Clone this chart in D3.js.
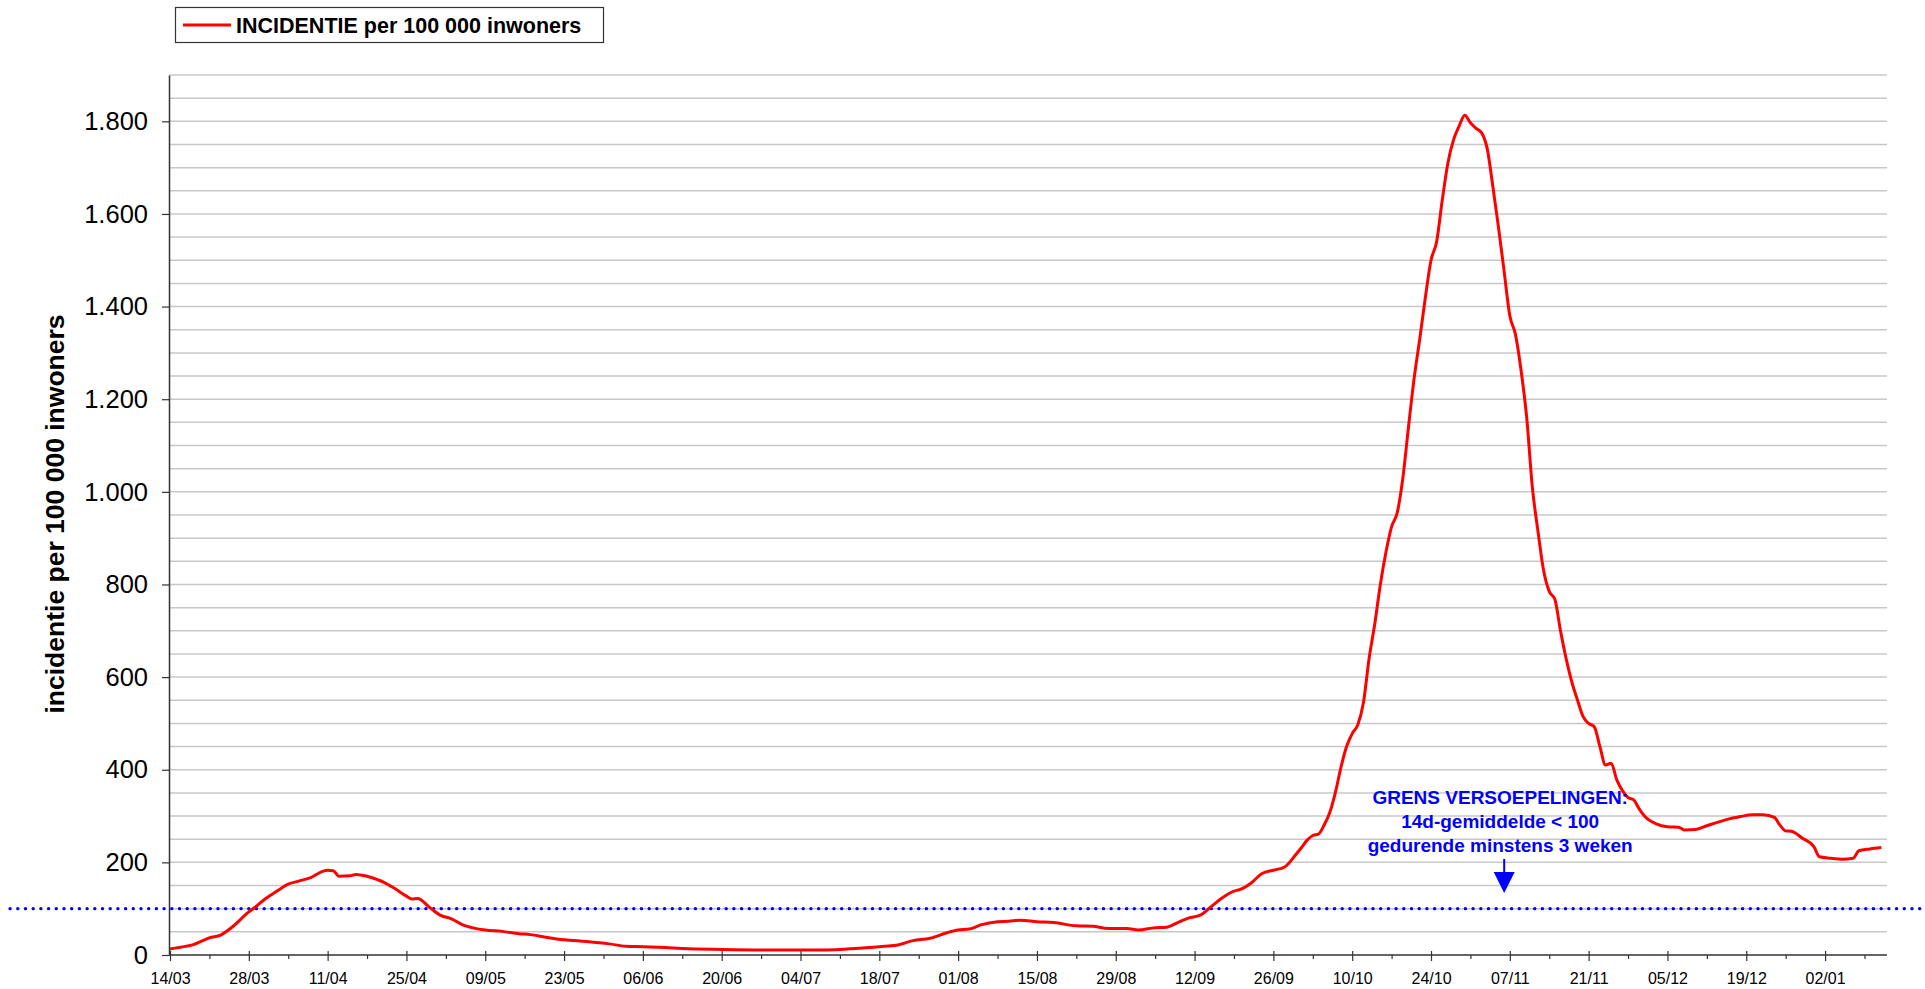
<!DOCTYPE html>
<html>
<head>
<meta charset="utf-8">
<script src="https://cdn.jsdelivr.net/npm/d3@7"></script>
<style>
  body { margin: 0; background: #fff; }
</style>
</head>
<body>
<script>
// incidence per 100 000 inhabitants (date, value)
const dates = [
  "2020-03-14","2020-03-16","2020-03-18","2020-03-20","2020-03-21","2020-03-23","2020-03-25","2020-03-28","2020-03-29","2020-03-31",
  "2020-04-02","2020-04-04","2020-04-06","2020-04-08","2020-04-10","2020-04-11","2020-04-12","2020-04-13","2020-04-15","2020-04-16",
  "2020-04-18","2020-04-20","2020-04-21","2020-04-23","2020-04-25","2020-04-26","2020-04-27","2020-04-29","2020-05-01","2020-05-03",
  "2020-05-05","2020-05-07","2020-05-09","2020-05-12","2020-05-15","2020-05-17","2020-05-20","2020-05-23","2020-05-27","2020-05-31",
  "2020-06-03","2020-06-06","2020-06-10","2020-06-13","2020-06-20","2020-06-27","2020-07-04","2020-07-08","2020-07-11","2020-07-15",
  "2020-07-18","2020-07-21","2020-07-24","2020-07-27","2020-07-30","2020-08-01","2020-08-03","2020-08-05","2020-08-08","2020-08-10",
  "2020-08-12","2020-08-15","2020-08-18","2020-08-22","2020-08-25","2020-08-27","2020-08-29","2020-08-31","2020-09-02","2020-09-05",
  "2020-09-07","2020-09-09","2020-09-11","2020-09-13","2020-09-15","2020-09-17","2020-09-19","2020-09-20","2020-09-22","2020-09-24",
  "2020-09-26","2020-09-28","2020-09-30","2020-10-01","2020-10-02","2020-10-03","2020-10-04","2020-10-05","2020-10-06","2020-10-07",
  "2020-10-08","2020-10-09","2020-10-10","2020-10-11","2020-10-12","2020-10-13","2020-10-14","2020-10-15","2020-10-16","2020-10-17",
  "2020-10-18","2020-10-19","2020-10-20","2020-10-21","2020-10-22","2020-10-23","2020-10-24","2020-10-25","2020-10-26","2020-10-27",
  "2020-10-28","2020-10-29","2020-10-30","2020-10-31","2020-11-01","2020-11-02","2020-11-03","2020-11-04","2020-11-05","2020-11-06",
  "2020-11-07","2020-11-08","2020-11-09","2020-11-10","2020-11-11","2020-11-12","2020-11-13","2020-11-14","2020-11-15","2020-11-16",
  "2020-11-17","2020-11-18","2020-11-19","2020-11-20","2020-11-21","2020-11-22","2020-11-23","2020-11-24","2020-11-25","2020-11-26",
  "2020-11-27","2020-11-28","2020-11-29","2020-11-30","2020-12-01","2020-12-03","2020-12-05","2020-12-07","2020-12-08","2020-12-10",
  "2020-12-12","2020-12-14","2020-12-16","2020-12-18","2020-12-20","2020-12-22","2020-12-24","2020-12-25","2020-12-26","2020-12-27",
  "2020-12-29","2020-12-31","2021-01-01","2021-01-03","2021-01-05","2021-01-07","2021-01-08","2021-01-10","2021-01-12"
];
const incidence = [
  13,17,22,32,37,43,60,93,102,122,
  138,153,160,167,180,183,182,170,171,174,
  170,162,157,143,127,121,122,104,86,78,
  65,58,54,51,46,44,38,33,29,24,
  19,18,16,14,12,11,11,11,12,15,
  18,21,31,36,48,54,56,65,72,73,
  75,72,70,63,62,58,57,57,54,59,
  60,70,80,86,105,124,138,141,155,176,
  183,190,217,232,248,258,261,280,307,350,
  405,450,478,497,545,640,714,800,870,925,
  955,1030,1140,1245,1330,1420,1500,1540,1630,1710,
  1760,1790,1813,1797,1785,1775,1740,1658,1570,1475,
  1380,1340,1262,1160,1010,915,830,785,768,700,
  640,590,551,515,500,493,450,410,414,378,
  355,340,335,315,299,283,277,276,270,271,
  279,287,294,299,303,303,297,280,268,267,
  252,234,212,209,207,209,225,229,232
];

const threshold = 100;
const yTicks = [0, 200, 400, 600, 800, 1000, 1200, 1400, 1600, 1800];
const seriesName = "INCIDENTIE per 100 000 inwoners";
const yTitle = "incidentie per 100 000 inwoners";
const noteLines = ["GRENS VERSOEPELINGEN:", "14d-gemiddelde < 100", "gedurende minstens 3 weken"];

const W = 1925, H = 989;
const plotLeft = 169, plotRight = 1887, plotTop = 75, plotBottom = 955;

const parse = d3.timeParse("%Y-%m-%d");
const data = dates.map((d, i) => ({ date: parse(d), value: incidence[i] }));

const svg = d3.select("body").append("svg")
  .attr("width", W)
  .attr("height", H)
  .style("font-family", "'Liberation Sans', Arial, sans-serif");

const x = d3.scaleTime()
  .domain([parse("2020-03-14"), parse("2021-01-13")])
  .range([plotLeft + 1, plotRight]);

const y = d3.scaleLinear()
  .domain([0, 1900])
  .range([plotBottom, plotTop]);

// horizontal gridlines every 50
svg.append("g")
  .selectAll("line")
  .data(d3.range(50, 1901, 50))
  .join("line")
  .attr("x1", plotLeft)
  .attr("x2", plotRight)
  .attr("y1", d => y(d))
  .attr("y2", d => y(d))
  .attr("stroke", "#c8c8c8")
  .attr("stroke-width", 1.5);

// threshold line (dotted, runs over the whole width)
svg.append("line")
  .attr("x1", 10)
  .attr("x2", W)
  .attr("y1", y(threshold))
  .attr("y2", y(threshold))
  .attr("stroke", "#0000ff")
  .attr("stroke-width", 3.2)
  .attr("stroke-linecap", "round")
  .attr("stroke-dasharray", "0.2 7.5");

// x axis: minor weekly, major every two weeks
const allDays = d3.timeDay.range(parse("2020-03-14"), parse("2021-01-14"));
const majors = allDays.filter((d, i) => i % 14 === 0);
const minors = allDays.filter((d, i) => i % 14 === 7);

svg.append("g")
  .attr("transform", `translate(0,${plotBottom})`)
  .call(d3.axisBottom(x).tickValues(minors).tickSize(4).tickFormat(""))
  .call(g => g.select(".domain").remove())
  .selectAll("line").attr("stroke", "#333").attr("stroke-width", 1.2);

const xAxis = svg.append("g")
  .attr("transform", `translate(0,${plotBottom})`)
  .call(d3.axisBottom(x).tickValues(majors).tickSize(6).tickSizeOuter(0).tickFormat(d3.timeFormat("%d/%m")));
xAxis.select(".domain").attr("stroke", "#333").attr("stroke-width", 1.5)
  .attr("d", `M${plotLeft},0H${plotRight}`);
xAxis.selectAll(".tick line").attr("y1", -4).attr("stroke", "#333").attr("stroke-width", 1.2);
xAxis.selectAll(".tick text")
  .attr("y", 29)
  .attr("dy", 0)
  .attr("font-size", 16)
  .attr("font-family", "'Liberation Sans', Arial, sans-serif")
  .attr("fill", "#000");

// y axis
const yAxis = svg.append("g")
  .attr("transform", `translate(${plotLeft},0)`)
  .call(d3.axisLeft(y).tickValues(yTicks).tickSize(7).tickPadding(14).tickSizeOuter(0)
    .tickFormat(d => d3.format(",")(d).replace(/,/g, ".")));
yAxis.select(".domain").attr("stroke", "#333").attr("stroke-width", 1.5);
yAxis.selectAll(".tick line").attr("stroke", "#333").attr("stroke-width", 1.2);
yAxis.selectAll(".tick text")
  .attr("font-size", 25.5)
  .attr("font-family", "'Liberation Sans', Arial, sans-serif")
  .attr("fill", "#000");

svg.append("text")
  .attr("transform", `translate(64,514) rotate(-90)`)
  .attr("text-anchor", "middle")
  .attr("font-size", 26.5)
  .attr("font-weight", "bold")
  .attr("fill", "#000")
  .text(yTitle);

// the series
const line = d3.line()
  .x(d => x(d.date))
  .y(d => y(d.value))
  .curve(d3.curveMonotoneX);

svg.append("path")
  .datum(data)
  .attr("fill", "none")
  .attr("stroke", "#ff0000")
  .attr("stroke-width", 3)
  .attr("stroke-linejoin", "round")
  .attr("d", line);

// annotation
const ax = x(parse("2020-11-06"));
svg.append("g")
  .selectAll("text")
  .data(noteLines)
  .join("text")
  .attr("x", ax - 4)
  .attr("y", (d, i) => 804 + i * 24)
  .attr("text-anchor", "middle")
  .attr("font-size", 19)
  .attr("font-weight", "bold")
  .attr("fill", "#0000ff")
  .text(d => d);

svg.append("line")
  .attr("x1", ax)
  .attr("x2", ax)
  .attr("y1", 859)
  .attr("y2", 874)
  .attr("stroke", "#0000ff")
  .attr("stroke-width", 2);

svg.append("polygon")
  .attr("points", `${ax - 10.5},872 ${ax + 10.5},872 ${ax},893`)
  .attr("fill", "#0000ff");

// legend
svg.append("rect")
  .attr("x", 175.5)
  .attr("y", 7.5)
  .attr("width", 428)
  .attr("height", 35)
  .attr("fill", "#fff")
  .attr("stroke", "#333")
  .attr("stroke-width", 1.2);

svg.append("line")
  .attr("x1", 183)
  .attr("x2", 231)
  .attr("y1", 25)
  .attr("y2", 25)
  .attr("stroke", "#ff0000")
  .attr("stroke-width", 3);

svg.append("text")
  .attr("x", 236)
  .attr("y", 33)
  .attr("font-size", 21.5)
  .attr("font-weight", "bold")
  .attr("fill", "#000")
  .text(seriesName);
</script>
</body>
</html>
